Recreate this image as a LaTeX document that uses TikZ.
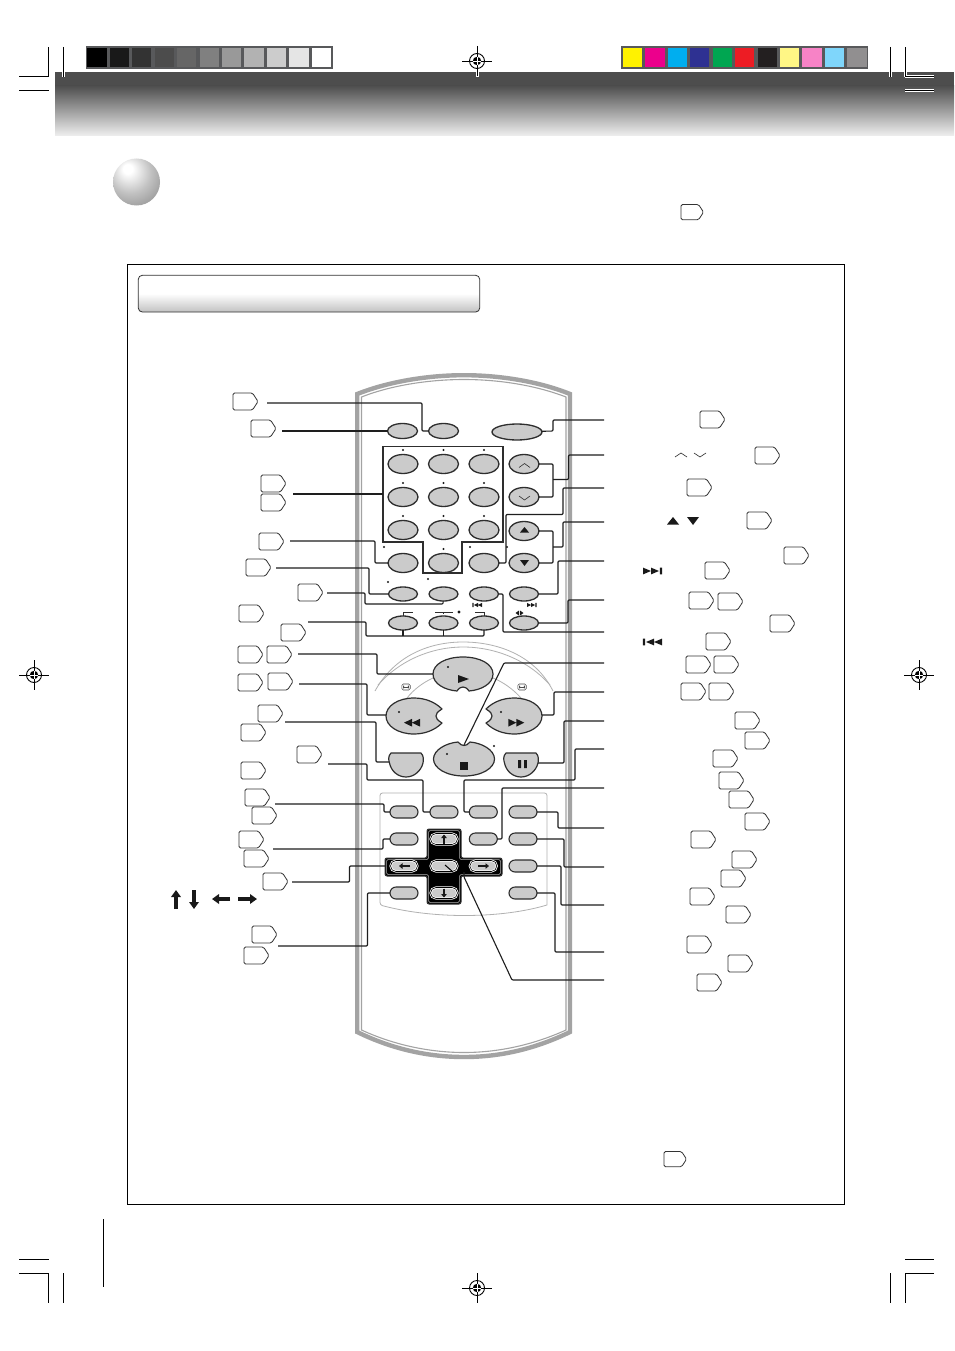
\documentclass[tikz,border=0pt]{standalone}
\usepackage{xcolor}
\usepackage{tikz}
\usetikzlibrary{calc,shapes.geometric,shapes.misc,arrows.meta}
\definecolor{btn}{HTML}{CBCBCB}
\definecolor{edge}{HTML}{2E2E2E}
\definecolor{wirec}{HTML}{1E1E1E}
\definecolor{body}{HTML}{A3A3A3}
\definecolor{frameg}{HTML}{58595B}
\definecolor{hdr}{HTML}{4D4D4D}
\pgfdeclareradialshading{bulb}{\pgfpoint{-10bp}{15bp}}{color(0bp)=(white); color(5bp)=(white); color(22bp)=(black!24); color(42bp)=(black!46); color(70bp)=(black!52)}
\tikzset{
  wire/.style={draw=wirec, line width=1.1pt, line join=round, rounded corners=1pt},
  thin gray/.style={draw=body!85!white, line width=0.8pt},
  keyn/.style={ellipse, draw=edge, fill=btn, line width=1.3pt, minimum width=30pt, minimum height=19pt, inner sep=0pt, outer sep=0pt},
  keys/.style={ellipse, draw=edge, fill=btn, line width=1.3pt, minimum width=29pt, minimum height=14pt, inner sep=0pt, outer sep=0pt},
  keyc/.style={rounded rectangle, draw=edge, fill=btn, line width=1.1pt, minimum width=28pt, minimum height=12pt, inner sep=0pt, outer sep=0pt},
  padk/.style={keyc, draw=white, double=black, double distance=0.6pt, line width=0.8pt, minimum width=27pt, minimum height=11pt},
  shaped/.style={draw=edge, fill=btn, line width=1.2pt, line join=round},
  cropline/.style={draw=black, line width=0.9pt},
  halo/.style={draw=white, line width=3pt},
  glyph/.style={fill=black!90},
  tagbox/.pic={\draw[draw=black!80, fill=white, line width=0.8pt, rounded corners=1.5pt] (0,0) -- (19.5,0) -- (25,8.5) -- (19.5,17) -- (0,17) -- cycle;},
  regmark/.pic={
    \draw[black, line width=0.8pt] (-15,0) -- (15,0) (0,-15) -- (0,15);
    \draw[black, line width=0.9pt] (0,0) circle[radius=7.5pt];
    \fill[black] (0,0) circle[radius=4.2pt];
    \draw[white, line width=0.7pt] (-4.4,0) -- (4.4,0) (0,-4.4) -- (0,4.4);
  },
  twin/.pic={\fill (0,-2.6) -- (4,0) -- (0,2.6) -- cycle (4,-2.6) -- (8,0) -- (4,2.6) -- cycle;},
  skipf/.pic={\fill (0,-2.6) -- (4,0) -- (0,2.6) -- cycle (4,-2.6) -- (8,0) -- (4,2.6) -- cycle (8.4,-2.6) rectangle (9.6,2.6);},
  wheelmark/.pic={
    \draw[black!70, fill=white, line width=0.6pt, rounded corners=1.5pt] (-4.2,-3) rectangle (4.2,3);
    \draw[black!70, line width=0.6pt] (-2.8,0) -- (2.8,0);
    \fill[black!70] (-2.8,-1.3) rectangle (-1.8,1.3) (1.8,-1.3) rectangle (2.8,1.3);
  },
}
\begin{document}
\begin{tikzpicture}[x=1pt,y=-1pt]
  \useasboundingbox (0,0) rectangle (954,1351);
  \fill[white] (0,0) rectangle (954,1351);

  % header band
  \fill[hdr] (55,72) rectangle (954,86);
  \shade[top color=hdr, bottom color=black!6] (55,85.5) rectangle (954,136);

  % colour bars
  \fill[frameg] (86,46) rectangle (333,69);
  \foreach \xa/\xb/\g in {86.7/107.3/100,110/129.3/90,132/151/80,155/174/70,177/196.3/60,200/219/50,222/241/40,244/264/30,267/286/20,289/309/10,312/331/0}
    \fill[black!\g] (\xa,48) rectangle (\xb,66.7);
  \fill[frameg] (621,46) rectangle (868,69);
  \foreach \xa/\xb/\c in {623/642.3/FFF200,645.3/665/EC008C,668/687/00AEEF,690/709/2E3192,713/732/00A651,735/754.3/ED1C24,758/777/231F20,780/799/FFF685,802/821.7/F783C6,825/844/7FD6FB,847/867/918F90}{
    \definecolor{swatch}{HTML}{\c}
    \fill[swatch] (\xa,48) rectangle (\xb,66.7);
  }

  % crop marks
  \foreach \x in {63.3,890,905} \draw[halo] (\x,72) -- (\x,77);
  \foreach \y in {76.5,90.5} \draw[halo] (905,\y) -- (934,\y);
  \draw[halo] (477,72) -- (477,77);
  \draw[cropline] (19,76.7) -- (48.3,76.7) -- (48.3,47);
  \draw[cropline] (19,90.7) -- (49,90.7);
  \draw[cropline] (63.3,47) -- (63.3,77);
  \draw[cropline] (890,47) -- (890,77);
  \draw[cropline] (934,76.5) -- (905,76.5) -- (905,47);
  \draw[cropline] (905,90.5) -- (934,90.5);
  \draw[cropline] (19,1259.3) -- (49,1259.3);
  \draw[cropline] (19,1273.3) -- (48.3,1273.3) -- (48.3,1303);
  \draw[cropline] (63.3,1273) -- (63.3,1303);
  \draw[cropline] (890,1273) -- (890,1303);
  \draw[cropline] (934,1273.3) -- (905,1273.3) -- (905,1303);
  \draw[cropline] (905,1259.3) -- (934,1259.3);
  \draw[cropline] (103,1219) -- (103,1287);
  \foreach \x/\y in {477/61,477/1288,34/675,919/675} \pic at (\x,\y) {regmark};

  % section ball and box
  \shade[shading=bulb] (136.5,182) circle[radius=23.5pt];
  \draw[black, line width=0.9pt] (127.3,264.3) rectangle (844.7,1204.7);
  \draw[draw=black!80, line width=0.8pt, rounded corners=4pt, top color=white, bottom color=black!24, middle color=white] (138.3,275.3) rectangle (479.7,312);

  % remote body
  \draw[draw=body, line width=4.4pt, line join=miter] (357.2,394) .. controls (390,381) and (430,375.2) .. (464,375.2) .. controls (498,375.2) and (538,381) .. (570,394) -- (570,1032) .. controls (535,1049) and (500,1057) .. (464,1057) .. controls (428,1057) and (392,1049) .. (357.2,1032) -- cycle;
  \draw[draw=body, line width=1.1pt] (361.5,397) .. controls (392,385) and (430,379.5) .. (464,379.5) .. controls (498,379.5) and (535,385) .. (566,397) -- (566,1030) .. controls (533,1045) and (498,1052.5) .. (464,1052.5) .. controls (430,1052.5) and (394,1045) .. (361.5,1030) -- cycle;

  % wheel arcs and keypad panel
  \draw[thin gray] (375,691) .. controls (395,655) and (430,642) .. (463,642) .. controls (497,642) and (535,655) .. (553,691);
  \draw[thin gray] (378,685) .. controls (400,660) and (432,647) .. (463,647) .. controls (495,647) and (528,660) .. (550,685);
  \draw[thin gray] (407,698) .. controls (414,689) and (424,682) .. (433,678) (493,678) .. controls (503,682) and (513,689) .. (521,698);
  \pic at (406,687) {wheelmark};
  \pic at (522,687) {wheelmark};
  \draw[thin gray] (380,905) .. controls (410,913) and (440,915.5) .. (464,915.5) .. controls (490,915.5) and (520,913) .. (547,905) [rounded corners=2.5pt] -- (547,793) -- (380,793) -- cycle;

  % free ends of the leaders
  \foreach \n/\x/\y in {la/267/403,lb/282/431,lc/293/494,ld/290/541,le/276/568,lf/327/593,lg/308/622,lh/298/654,li/299/684,lj/285/722,lk/328/764,ll/275/804,lm/273/849,ln/292/882,lo/278/946,
    ra/604/420,rb/604/455,rc/604/488,rd/604/522,re/604/561,rf/604/600,rg/604/632,rh/604/663,ri/604/692,rj/604/721,rk/604/749,rl/604/788,rm/604/828,rn/604/867,ro/604/905,rp/604/952,rq/604/980}
    \coordinate (\n) at (\x,\y);

  % number block frame
  \coordinate (fr) at (383,494);
  \draw[draw=edge, line width=1.3pt, line join=miter] (383,446.5) -- (503,446.5) -- (503,542) -- (462,542) -- (462,573) -- (423,573) -- (423,542) -- (383,542) -- cycle;

  % buttons
  \node[keys, minimum width=30pt, minimum height=15pt] (top1) at (402.5,431) {};
  \node[keys, minimum width=30pt, minimum height=15pt] (top2) at (443.5,431) {};
  \node[keys, minimum width=50pt, minimum height=16pt] (power) at (517,432) {};
  \foreach \i/\x in {1/403,2/443.5,3/484}
    \foreach \j/\y in {1/464,2/497,3/530,4/563}
      \node[keyn] (k\i\j) at (\x,\y) {};
  \foreach \j/\y in {1/464,2/497,3/531,4/563}
    \node[keyn] (ch\j) at (524,\y) {};
  \foreach \i/\x in {1/403,2/443.5,3/484,4/524}{
    \node[keys] (ra\i) at (\x,594) {};
    \node[keys] (so\i) at (\x,623) {};
  }
  \foreach \n/\x/\y in {m1/404/812,m2/444/812,m3/483.3/812,m4/523/812,w1/404/839,w3/483.3/839,w4/523/839,y4/523/866,z1/404/893,z4/523/893}
    \node[keyc] (\n) at (\x,\y) {};

  % transport keys
  \coordinate (play) at (433,674);
  \coordinate (rew) at (386,715);
  \coordinate (ffwd) at (542,715);
  \coordinate (stopk) at (464,745);
  \coordinate (slowk) at (389,762);
  \coordinate (pausek) at (538,763);
  \draw[shaped] (433,674) .. controls (433,664) and (446,657) .. (463,657) .. controls (480,657) and (493,664) .. (493,674) .. controls (493,684) and (481,690) .. (469,691) .. controls (467,688) and (465,687) .. (463,687) .. controls (461,687) and (459,688) .. (457,691) .. controls (445,690) and (433,684) .. (433,674) -- cycle;
  \draw[shaped] (433.5,759) .. controls (433.5,768) and (446,776) .. (464,776) .. controls (482,776) and (494.5,768) .. (494.5,759) .. controls (494.5,750) and (482,743) .. (470,742) .. controls (468,744.5) and (466,745.5) .. (464,745.5) .. controls (462,745.5) and (460,744.5) .. (458,742) .. controls (446,743) and (433.5,750) .. (433.5,759) -- cycle;
  \draw[shaped] (442,709) .. controls (435,702) and (425,698) .. (414,698) .. controls (398,698) and (386,706) .. (386,716) .. controls (386,726) and (398,734) .. (414,734) .. controls (425,734) and (435,730) .. (442,723) .. controls (437,720) and (436,718) .. (436,716) .. controls (436,714) and (437,712) .. (442,709) -- cycle;
  \draw[shaped] (486,709) .. controls (493,702) and (503,698) .. (514,698) .. controls (530,698) and (542,706) .. (542,716) .. controls (542,726) and (530,734) .. (514,734) .. controls (503,734) and (493,730) .. (486,723) .. controls (491,720) and (492,718) .. (492,716) .. controls (492,714) and (491,712) .. (486,709) -- cycle;
  \foreach \dx in {0,115}
    \draw[shaped, shift={(\dx,0)}] (391,753) -- (421,753) .. controls (424,756) and (423.5,760) .. (423,763) .. controls (421,771) and (414,777) .. (406,777) .. controls (398,777) and (391,771) .. (389.5,763) .. controls (388.5,760) and (388,756) .. (391,753) -- cycle;

  % cross pad
  \draw[draw=black!80, fill=black, line width=1pt, rounded corners=2pt] (427,829) -- (461,829) -- (461,858) -- (502,858) -- (502,876) -- (461,876) -- (461,904) -- (427,904) -- (427,876) -- (385,876) -- (385,858) -- (427,858) -- cycle;
  \draw[draw=white!70!black, line width=0.5pt, rounded corners=1.5pt] (428.5,830.5) -- (459.5,830.5) -- (459.5,859.5) -- (500.5,859.5) -- (500.5,874.5) -- (459.5,874.5) -- (459.5,902.5) -- (428.5,902.5) -- (428.5,874.5) -- (386.5,874.5) -- (386.5,859.5) -- (428.5,859.5) -- cycle;
  \node[padk] (padu) at (444,839) {};
  \node[padk] (padl) at (404,866) {};
  \node[padk] (padc) at (444,866) {};
  \node[padk] (padr) at (483.3,866) {};
  \node[padk] (padd) at (444,893) {};

  % leaders
  \draw[wire] (la) -- (422,403) -- (422,431) -- (top2);
  \draw[wire] (lb) -- (top1);
  \draw[wire] (lc) -- (fr);
  \draw[wire] (ld) -- (375,541) -- (375,563) -- (k14);
  \draw[wire] (le) -- (369,568) -- (369,594) -- (ra1);
  \draw[wire] (lf) -- (365,593) -- (365,604) -- (443,604) -- (ra2);
  \draw[wire] (lg) -- (366,622) -- (366,636) -- (484,636) -- (so3);
  \draw[wire] (403,636) -- (so1);
  \draw[wire] (443.5,636) -- (so2);
  \draw[wire] (lh) -- (377,654) -- (377,674) -- (play);
  \draw[wire] (li) -- (367,684) -- (367,715) -- (rew);
  \draw[wire] (lj) -- (376,722) -- (376,762) -- (slowk);
  \draw[wire] (lk) -- (367,764) -- (367,780) -- (423,780) -- (423,812) -- (m2);
  \draw[wire] (ll) -- (384,804) -- (384,812) -- (m1);
  \draw[wire] (lm) -- (383,849) -- (383,839) -- (w1);
  \draw[wire] (ln) -- (349.5,882) -- (349.5,866) -- (386,866);
  \draw[wire] (lo) -- (367.5,946) -- (367.5,893) -- (z1);
  \draw[wire] (ra) -- (553,420) -- (553,431) -- (power);
  \draw[wire] (539,464) -- (553,464) -- (553,497) -- (539,497);
  \draw[wire] (rb) -- (568.5,455) -- (568.5,479.5) -- (553,479.5);
  \draw[wire] (rc) -- (563,488) -- (563,514.5) -- (506,514.5) -- (506,563) -- (k34);
  \draw[wire] (539,531) -- (553,531) -- (553,563) -- (539,563);
  \draw[wire] (rd) -- (563,522) -- (563,547) -- (553,547);
  \draw[wire] (re) -- (558,561) -- (558,594) -- (ra4);
  \draw[wire] (rf) -- (568,600) -- (568,623) -- (so4);
  \draw[wire] (rg) -- (503,632) -- (503,594) -- (ra3);
  \draw[wire] (rh) -- (504,663) -- (stopk);
  \draw[wire] (ri) -- (554,692) -- (554,715) -- (ffwd);
  \draw[wire] (rj) -- (564,721) -- (564,763) -- (pausek);
  \draw[wire] (rk) -- (575,749) -- (575,780) -- (464,780) -- (464,812) -- (m3);
  \draw[wire] (rl) -- (502,788) -- (502,839) -- (w3);
  \draw[wire] (rm) -- (558,828) -- (558,812) -- (m4);
  \draw[wire] (rn) -- (564,867) -- (564,839) -- (w4);
  \draw[wire] (ro) -- (561,905) -- (561,866) -- (y4);
  \draw[wire] (rp) -- (555,952) -- (555,893) -- (z4);
  \draw[wire] (rq) -- (512,980) -- (464,877) -- (464,872);
  \draw[draw=black, line width=1pt] (445,865) -- (453,872);

  % page references
  \foreach \x/\y in {233/393,251/420,261/475,261/494,259/533,246/559,298/584,239/605,281/624,238/646,267/646,238/674,268/673,258/705,241/724,297/746,241/762,245/789,252/807,239/831,244/850,263/873,252/926,244/947,
    700/411,755/447,687/479,747/512,784/547,705/562,689/592,718/593,770/615,706/633,686/656,714/656,681/683,709/683,
    735/712,745/732,713/750,719/772,729/791,745/813,691/831,732/851,721/870,690/888,726/906,687/936,728/955,697/974}
    \pic at (\x,\y) {tagbox};
  \foreach \x/\y in {681/204.5,664/1151.5}
    \pic[scale=0.9] at (\x,\y) {tagbox};

  % dots beside the keys
  \foreach \x/\y in {403/450,443.5/450,484/450,403/483,443.5/483,484/483,403/516,443.5/516,484/516,384/547,443.5/549,470/547,507/547,388/582,428/579,448/667,399/712,501/712,447/754,494/746}
    \fill[glyph] (\x,\y) circle[radius=1.2pt];
  \fill[glyph] (459,612) circle[radius=1.7pt];

  % brackets over the lower row
  \draw[draw=edge, line width=0.6pt] (403,616) -- (403,612) -- (413,612);
  \draw[draw=edge, line width=0.6pt] (435,612) -- (453,612) (443.5,612) -- (443.5,613.5);
  \draw[draw=edge, line width=0.6pt] (475,612) -- (484,612) -- (484,616);

  % symbols on the keys
  \draw[draw=edge, line width=0.6pt] (519,467.5) -- (524.5,463.5) -- (530,467.5);
  \draw[draw=edge, line width=0.6pt] (519,496) -- (524.5,500) -- (530,496);
  \fill[glyph] (520,532.5) -- (524.5,527) -- (529,532.5) -- cycle;
  \fill[glyph] (520,560) -- (529,560) -- (524.5,566) -- cycle;
  \fill[glyph] (458,675) -- (469,679) -- (458,683) -- cycle;
  \fill[glyph] (460,762) rectangle (468,770);
  \fill[glyph] (518,760) rectangle (521,768) (524,760) rectangle (526.8,768);
  \begin{scope}[glyph]
    \pic[xscale=-2, yscale=1.5] at (420,722.7) {twin};
    \pic[xscale=2, yscale=1.5] at (508.3,722.7) {twin};
    \pic[yscale=0.8] at (527,605) {skipf};
    \pic[xscale=-1, yscale=0.8] at (482,605) {skipf};
    \pic[xscale=2, yscale=1.3] at (643,571) {skipf};
    \pic[xscale=-2, yscale=1.3] at (662,642) {skipf};
  \end{scope}
  \fill[glyph] (519,610.5) -- (515.5,613) -- (519,615.5) -- cycle (520,610.5) -- (523.5,613) -- (520,615.5) -- cycle;

  % pad arrows
  \foreach \xa/\ya/\xb/\yb in {444/843.5/444/834.5,444/888.5/444/897.5,410/866/399/866,478/866/489/866}
    \draw[glyph, draw=black!90, line width=1.4pt, -{Triangle[length=3.5pt,width=5.5pt]}] (\xa,\ya) -- (\xb,\yb);

  % legend symbols
  \draw[draw=edge, line width=0.6pt] (675,457) -- (681,453) -- (687,457) (694,453) -- (700,457) -- (706,453);
  \fill[glyph] (667,524.5) -- (673,517) -- (679,524.5) -- cycle (687,517) -- (699,517) -- (693,525) -- cycle;
  \foreach \xa/\ya/\xb/\yb in {176/909/176/890,194/890/194/909,230/899/212/899,238/899/257/899}
    \draw[glyph, draw=black!90, line width=3.8pt, -{Triangle[length=7pt,width=9.5pt]}] (\xa,\ya) -- (\xb,\yb);
\end{tikzpicture}
\end{document}
